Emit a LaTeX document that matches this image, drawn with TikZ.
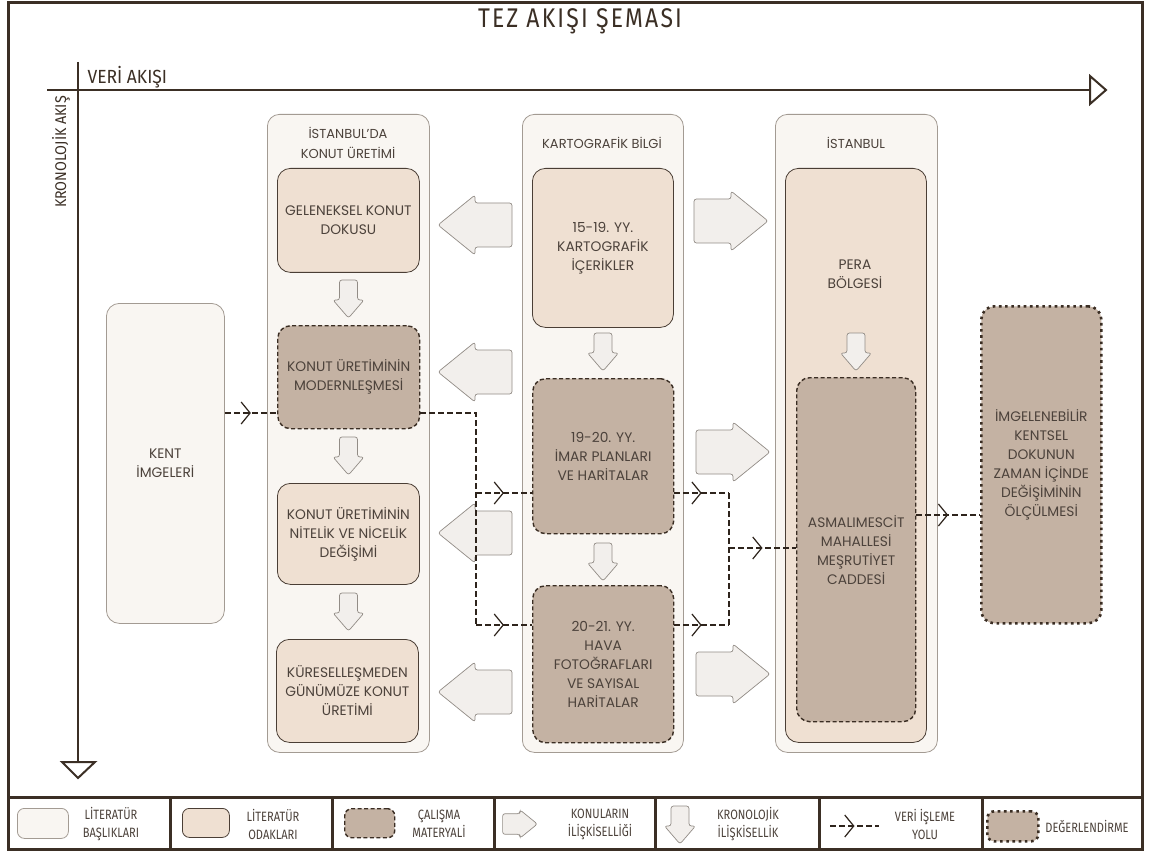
\documentclass[tikz,border=0pt]{standalone}
\usepackage{fontspec}
\setmainfont{Poppins}
\newfontfamily\condfont[FakeStretch=0.82]{Fira Sans}
\newfontfamily\axisfont[FakeStretch=0.92]{Fira Sans}
\newfontfamily\titlefont[FakeStretch=0.85,LetterSpace=8]{Fira Sans}
\usetikzlibrary{arrows.meta,decorations.markings,calc}
\definecolor{frame}{HTML}{3B2F25}
\definecolor{dline}{HTML}{2E241C}
\definecolor{txt}{HTML}{4C423B}
\definecolor{colfill}{HTML}{F9F6F2}
\definecolor{colline}{HTML}{A39B93}
\definecolor{focfill}{HTML}{EFE0D2}
\definecolor{focline}{HTML}{4A3E35}
\definecolor{matfill}{HTML}{C4B2A3}
\definecolor{matline}{HTML}{3A2D23}
\definecolor{arrfill}{HTML}{F2EFEC}
\definecolor{arrline}{HTML}{928C86}
\tikzset{
  colbox/.style={draw=colline, fill=colfill, line width=0.8pt, rounded corners=12pt, anchor=north west, inner sep=0pt},
  bx/.style={anchor=north west, inner sep=0pt, align=center, text=txt, font=\fontsize{13.8}{19}\selectfont, rounded corners=13pt},
  focbox/.style={bx, draw=focline, fill=focfill, line width=0.8pt},
  matbox/.style={bx, draw=matline, fill=matfill, line width=1.4pt, dash pattern=on 4pt off 2.5pt},
  evalbox/.style={bx, draw=matline, fill=matfill, line width=2.6pt, dash pattern=on 2.6pt off 3.6pt},
  litbox/.style={bx, draw=colline, fill=colfill, line width=0.8pt},
  data/.style={draw=dline, line width=1.8pt, dash pattern=on 6pt off 3pt},
  chev/.style={postaction={decorate}, decoration={markings, mark=at position 0.5 with {\arrow{Straight Barb[length=9pt,width=22pt,line width=1.2pt]}}}},
  bigarrow/.style={draw=arrline, fill=arrfill, line width=0.7pt, rounded corners=2.5pt},
  axisline/.style={draw=frame, line width=2pt},
  hdr/.style={text=txt, font=\fontsize{13}{20}\selectfont, align=center},
  leg/.style={text=txt, font=\condfont\fontsize{13.5}{18}\selectfont, align=center},
  rarrow/.pic={\path[bigarrow] (-37,-22) -- (0,-22) -- (0,-30) -- (37,0) -- (0,30) -- (0,22) -- (-37,22) -- cycle;},
  larrow/.pic={\path[bigarrow] (37,-22) -- (0,-22) -- (0,-30) -- (-37,0) -- (0,30) -- (0,22) -- (37,22) -- cycle;},
  darrow/.pic={\path[bigarrow] (-9,0) -- (9,0) -- (9,20) -- (15.5,20) -- (0,38) -- (-15.5,20) -- (-9,20) -- cycle;},
}
\begin{document}
\begin{tikzpicture}[x=1pt,y=-1pt]
\useasboundingbox (0,0) rectangle (1149,853);
\fill[white] (0,0) rectangle (1149,853);
% frame
\draw[frame, line width=3pt] (8,3) rectangle (1142,849);
\draw[frame, line width=3pt] (8,797) -- (1142,797);
\foreach \x in {170,332,494,655,819,982} \draw[frame, line width=3pt] (\x,797) -- (\x,849);
% title
\node[text=frame, font=\titlefont\fontsize{27}{30}\selectfont] (title) at (580,21) {TEZ AKIŞI ŞEMASI};
% axes
\draw[axisline] (47,90) -- (1090,90);
\draw[axisline, fill=white, line join=miter] (1090,76) -- (1106,90) -- (1090,104) -- cycle;
\draw[axisline] (78,62) -- (78,762);
\draw[axisline, fill=white, line join=miter] (62,762) -- (95,762) -- (78,778) -- cycle;
\node[text=frame, font=\axisfont\fontsize{19}{21}\selectfont, anchor=west] (veri) at (84,77) {VERİ AKIŞI};
\node[text=frame, font=\axisfont\fontsize{15.5}{20}\selectfont, rotate=90] (kron) at (61,152) {KRONOLOJİK AKIŞ};
% columns
\node[colbox, minimum width=162pt, minimum height=638pt] (col1) at (267,114) {};
\node[colbox, minimum width=161pt, minimum height=638pt] (col2) at (522,114) {};
\node[colbox, minimum width=162pt, minimum height=638pt] (col3) at (775,114) {};
\node[hdr] (h1) at (348,143) {İSTANBUL'DA\\KONUT ÜRETİMİ};
\node[hdr] (h2) at (602,143) {KARTOGRAFİK BİLGİ};
\node[hdr] (h3) at (856,143) {İSTANBUL};
% boxes
\node[litbox, minimum width=118pt, minimum height=320pt] (kent) at (106,303) {KENT\\İMGELERİ};
\node[focbox, minimum width=142pt, minimum height=104pt] (gel) at (277,168) {GELENEKSEL KONUT\\DOKUSU};
\node[matbox, minimum width=142pt, minimum height=103pt] (mod) at (277,325) {KONUT ÜRETİMİNİN\\MODERNLEŞMESİ};
\node[focbox, minimum width=142pt, minimum height=101pt] (nit) at (277,483) {KONUT ÜRETİMİNİN\\NİTELİK VE NİCELİK\\DEĞİŞİMİ};
\node[focbox, minimum width=142pt, minimum height=103pt] (kur) at (276,639) {KÜRESELLEŞMEDEN\\GÜNÜMÜZE KONUT\\ÜRETİMİ};
\node[focbox, minimum width=141pt, minimum height=159pt] (k1) at (532,168) {15-19. YY.\\KARTOGRAFİK\\İÇERİKLER};
\node[matbox, minimum width=141pt, minimum height=155pt] (k2) at (532,378) {19-20. YY.\\İMAR PLANLARI\\VE HARİTALAR};
\node[matbox, minimum width=141pt, minimum height=157pt] (k3) at (532,585) {20-21. YY.\\HAVA\\FOTOĞRAFLARI\\VE SAYISAL\\HARİTALAR};
\node[focbox, minimum width=141pt, minimum height=574pt] (pera) at (785,168) {};
\node[hdr, font=\fontsize{13.8}{19}\selectfont] (peratxt) at (855,274) {PERA\\BÖLGESİ};
\node[matbox, minimum width=119pt, minimum height=344pt] (asm) at (796,377) {ASMALIMESCİT\\MAHALLESİ\\MEŞRUTİYET\\CADDESİ};
\node[evalbox, minimum width=120pt, minimum height=317pt] (eval) at (980,305) {İMGELENEBİLİR\\KENTSEL\\DOKUNUN\\ZAMAN İÇİNDE\\DEĞİŞİMİNİN\\ÖLÇÜLMESİ};
% chronological arrows
\pic at (348.5,280) {darrow};
\pic at (348.5,437) {darrow};
\pic at (348.5,593) {darrow};
\pic at (603,333) {darrow};
\pic at (603,543) {darrow};
\pic at (856,333) {darrow};
% relation arrows
\pic at (475,225) {larrow};
\pic at (475,372) {larrow};
\pic at (475,533) {larrow};
\pic at (475,692) {larrow};
\pic at (731,221) {rarrow};
\pic at (733,452) {rarrow};
\pic at (733,674) {rarrow};
% data path
\coordinate (j1) at (476,413);
\coordinate (j2) at (476,493);
\coordinate (j3) at (476,625);
\coordinate (j4) at (729,493);
\coordinate (j5) at (729,625);
\coordinate (j6) at (729,548);
\coordinate (j7) at (947,515);
\draw[data,chev] (kent.east |- j1) -- (mod.west |- j1);
\draw[data] (mod.east |- j1) -- (j1) -- (j3);
\draw[data,chev] (j2) -- (k2.west |- j2);
\draw[data,chev] (j3) -- (k3.west |- j3);
\draw[data,chev] (k2.east |- j4) -- (j4);
\draw[data,chev] (k3.east |- j5) -- (j5);
\draw[data] (j4) -- (j5);
\draw[data,chev] (j6) -- (asm.west |- j6);
\draw[data,chev] (asm.east |- j7) -- (eval.west |- j7);
% legend
\node[litbox, rounded corners=7pt, minimum width=51pt, minimum height=30pt] (lg1) at (17,808) {};
\node[leg] (lt1) at (111,824) {LİTERATÜR\\BAŞLIKLARI};
\node[focbox, rounded corners=7pt, minimum width=47pt, minimum height=29pt] (lg2) at (182,808) {};
\node[leg] (lt2) at (273,824) {LİTERATÜR\\ODAKLARI};
\node[matbox, rounded corners=7pt, minimum width=50pt, minimum height=29pt] (lg3) at (344,808) {};
\node[leg] (lt3) at (439,824) {ÇALIŞMA\\MATERYALİ};
\pic[scale=0.47] at (520,824) {rarrow};
\node[leg] (lt4) at (600,824) {KONULARIN\\İLİŞKİSELLİĞİ};
\pic at (680,806) {darrow};
\node[leg] (lt5) at (748,824) {KRONOLOJİK\\İLİŞKİSELLİK};
\coordinate (lg6a) at (830,826);
\coordinate (lg6b) at (879,826);
\draw[data,chev] (lg6a) -- (lg6b);
\node[leg] (lt6) at (925,824) {VERİ İŞLEME\\YOLU};
\node[evalbox, rounded corners=7pt, minimum width=51pt, minimum height=30pt] (lg7) at (986,810) {};
\node[leg] (lt7) at (1087,826) {DEĞERLENDİRME};
\end{tikzpicture}
\end{document}
